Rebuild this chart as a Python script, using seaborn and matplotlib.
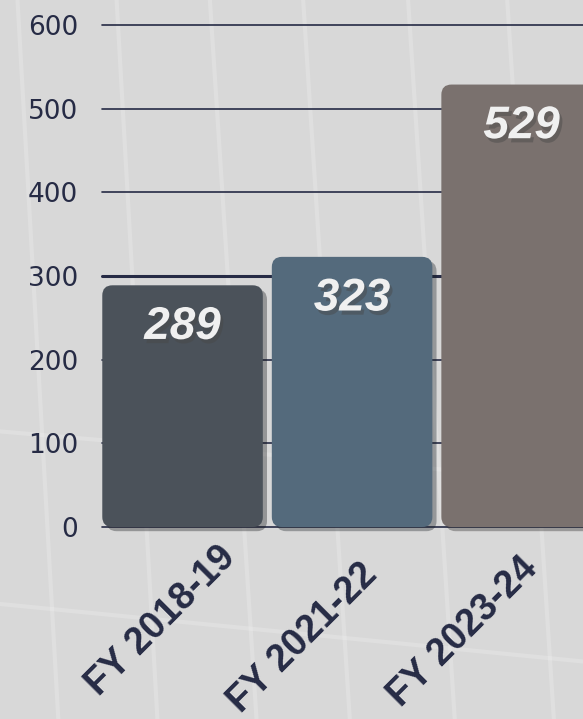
import numpy as np
import matplotlib
matplotlib.use("Agg")
import matplotlib.pyplot as plt
import matplotlib.patheffects as pe
import matplotlib.transforms as mtransforms
from matplotlib.patches import FancyBboxPatch
from matplotlib.lines import Line2D
import seaborn as sns

# -------------------- #
# Data
# -------------------- #
categories = ["FY 2018-19", "FY 2021-22", "FY 2023-24"]
values = [289, 323, 529]
bar_colors = ["#4b525a", "#546a7c", "#7a716e"]
y_ticks = [0, 100, 200, 300, 400, 500, 600]

navy = "#262b45"
bg = "#d8d8d8"

sns.set_style("white")
plt.rcParams['font.family'] = ['DejaVu Sans']

fig = plt.figure(figsize=(5.83, 7.19), dpi=100, facecolor=bg)

# faint streaks in the background (solar panel photo look)
streaks = [(0.03, 1.0, 0.10, 0.0), (0.20, 1.0, 0.27, 0.0), (0.36, 1.0, 0.44, 0.0),
           (0.52, 1.0, 0.60, 0.0), (0.70, 1.0, 0.78, 0.0), (0.87, 1.0, 0.95, 0.0),
           (0.0, 0.16, 1.0, 0.08), (0.0, 0.40, 1.0, 0.33)]
for x0, y0, x1, y1 in streaks:
    fig.add_artist(Line2D([x0, x1], [y0, y1], transform=fig.transFigure,
                          color="white", lw=3, alpha=0.18, zorder=0))

ax = fig.add_axes([0.175, 0.267, 0.825, 0.698])
ax.set_facecolor("none")

sns.barplot(x=categories, y=values, hue=categories, palette=bar_colors,
            width=0.947, legend=False, saturation=1, ax=ax)

# swap plain bars for rounded ones
for patch in list(ax.patches):
    x, y = patch.get_x(), patch.get_y()
    w, h = patch.get_width(), patch.get_height()
    fc = patch.get_facecolor()
    patch.remove()
    rb = FancyBboxPatch((x, y), w, h, boxstyle="round,pad=0,rounding_size=0.06",
                        mutation_aspect=203, facecolor=fc, edgecolor="none",
                        zorder=3, clip_on=False)
    rb.set_path_effects([pe.SimplePatchShadow(offset=(3, -3), alpha=0.35),
                         pe.Normal()])
    ax.add_patch(rb)

# value labels inside bars
for i, v in enumerate(values):
    ax.annotate(f"{v}", (i, v), xytext=(0, -30), textcoords="offset points",
                ha="center", va="center", fontsize=33, fontweight="bold",
                fontstyle="italic", color="#f0f0f0", family="Liberation Sans",
                zorder=5,
                path_effects=[pe.SimplePatchShadow(offset=(2, -3), alpha=0.45),
                              pe.Normal()])

ax.set_xlim(-0.475, 2.362)
ax.set_ylim(0, 600)
ax.set_yticks(y_ticks)
ax.yaxis.grid(True, color=navy, lw=1.2)
ax.set_axisbelow(True)
for gl in ax.get_ygridlines():
    gl.set_clip_on(False)
ax.get_ygridlines()[3].set_linewidth(2.2)
sns.despine(ax=ax, left=True, bottom=True, top=True, right=True)

ax.tick_params(axis="y", length=0, pad=17, labelsize=19, labelcolor=navy)
ax.tick_params(axis="x", length=0, pad=4)
ax.set_xticks(range(len(categories)))
ax.set_xticklabels(categories, rotation=45, ha="right", rotation_mode="anchor",
                   fontsize=27, fontweight="bold", color=navy,
                   family="Liberation Sans")
# nudge the rotated labels (points)
label_shift = [(25, -5), (5, -17), (-2, -13)]
for lbl, (dx, dy) in zip(ax.get_xticklabels(), label_shift):
    off = mtransforms.ScaledTranslation(dx / 72, dy / 72, fig.dpi_scale_trans)
    lbl.set_transform(lbl.get_transform() + off)

ax.set_xlabel("")
ax.set_ylabel("")

fig.savefig("out.png", dpi=100, facecolor=bg)
